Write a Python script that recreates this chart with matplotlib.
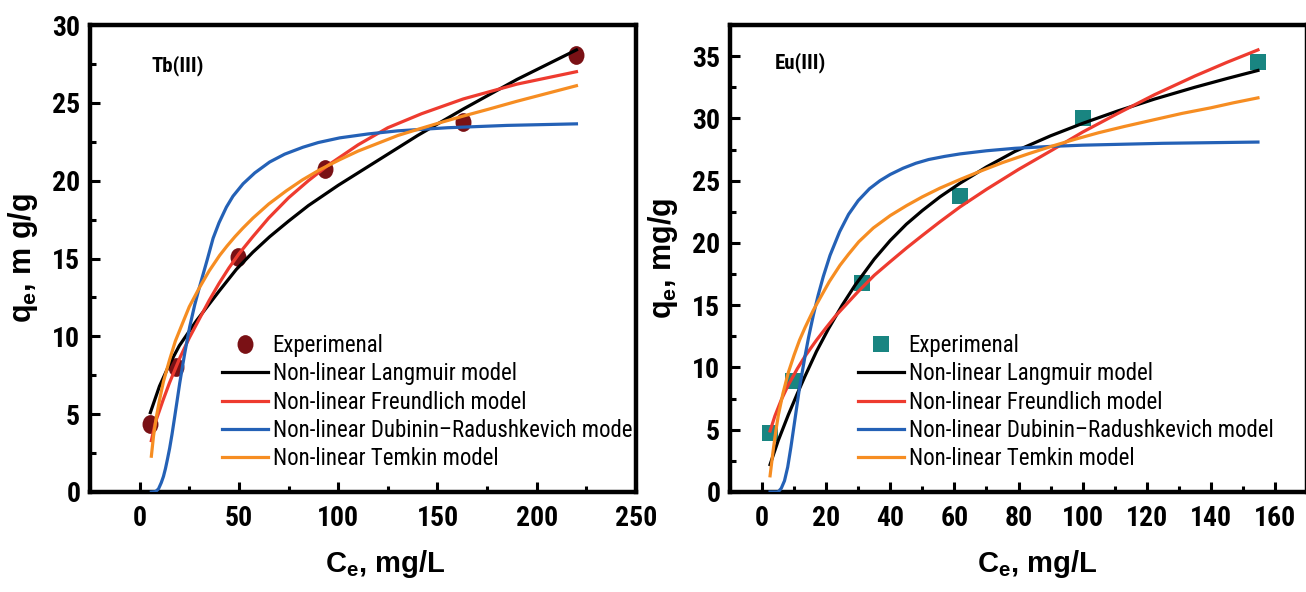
import matplotlib
matplotlib.use("Agg")
import matplotlib.pyplot as plt
from matplotlib import font_manager
from matplotlib.markers import MarkerStyle
from matplotlib.transforms import Affine2D
from matplotlib.ticker import MultipleLocator

# ---- data ----
# Tb(III)
tb_ce = [5.0, 18.5, 49.5, 93.2, 163, 220]
tb_qe = [4.4, 8.05, 15.1, 20.75, 23.8, 28.1]

tb_lang_x = [5.4, 10, 15, 20, 28.6, 32.8, 40, 48.7, 57, 65.5, 75, 85, 100, 120, 140, 163, 190, 220]
tb_lang_y = [5.1, 6.8, 8.2, 9.4, 11.0, 11.7, 12.9, 14.3, 15.4, 16.4, 17.4, 18.4, 19.7, 21.3, 22.9,
             24.6, 26.5, 28.4]

tb_frd_x = [5.9, 8, 11.8, 15, 20.2, 25, 30, 35, 40, 45, 50, 57, 65, 75, 85, 95, 110, 125, 142,
            163, 190, 220]
tb_frd_y = [3.3, 4.5, 5.9, 7.0, 8.6, 9.9, 11.1, 12.3, 13.4, 14.4, 15.3, 16.4, 17.6, 18.9, 20.0,
            21.0, 22.3, 23.4, 24.3, 25.25, 26.2, 27.0]

tb_dr_x = [5.9, 8, 9.5, 10.9, 12, 13, 14, 15.1, 16.3, 17.5, 18.8, 20.2, 21.5, 22.7, 24, 25.2,
           27.7, 30, 32, 34, 37, 40, 43.7, 47, 52.1, 58, 65.5, 73, 82.3, 90, 100.8, 115, 130,
           155, 185, 220]
tb_dr_y = [0, 0.02, 0.2, 0.6, 1.0, 1.5, 2.1, 2.8, 3.7, 4.7, 5.8, 7.0, 8.0, 8.9, 9.8, 10.6,
           12.0, 13.1, 14.0, 14.9, 16.3, 17.3, 18.3, 19.0, 19.8, 20.5, 21.2, 21.7, 22.15, 22.45,
           22.75, 23.0, 23.2, 23.4, 23.55, 23.65]

tb_tem_x = [5.9, 7, 8.4, 10, 12, 15.1, 18, 21.8, 25, 30, 35, 40.3, 44, 48, 52, 57.1, 65, 73.9,
            82, 90.7, 100.8, 110, 120, 130, 141.5, 152, 163, 176, 190, 205, 220]
tb_tem_y = [2.3, 3.6, 4.8, 5.9, 7.1, 8.5, 9.7, 10.9, 11.9, 13.1, 14.2, 15.2, 15.8, 16.4, 16.95,
            17.6, 18.5, 19.35, 20.05, 20.7, 21.35, 21.9, 22.4, 22.9, 23.35, 23.75, 24.15, 24.6,
            25.1, 25.6, 26.1]

# Eu(III)
eu_ce = [2.5, 9.8, 31.1, 61.8, 100, 154.8]
eu_qe = [4.7, 8.9, 16.8, 23.8, 30.0, 34.5]

eu_lang_x = [2.5, 5, 8.2, 11, 13.4, 17, 20.7, 25, 29, 35, 40, 45, 50, 55.5, 61.8, 70, 78.9,
             90, 100, 111, 122.4, 135, 145, 154.7]
eu_lang_y = [2.2, 4.1, 6.2, 7.9, 9.3, 11.3, 13.1, 15.0, 16.6, 18.7, 20.2, 21.5, 22.6, 23.7, 24.8,
             26.1, 27.35, 28.6, 29.6, 30.6, 31.55, 32.5, 33.2, 33.85]

eu_frd_x = [2.5, 4, 6, 8.2, 11, 13.4, 17, 20, 22.8, 26.4, 30, 35, 40, 45.1, 50, 55.5, 61.8, 70,
            80, 90.8, 100, 111, 122.4, 135, 145, 154.7]
eu_frd_y = [4.9, 6.1, 7.4, 8.6, 9.9, 10.9, 12.2, 13.2, 14.1, 15.1, 16.1, 17.4, 18.5, 19.6, 20.6,
            21.7, 22.9, 24.3, 25.9, 27.5, 28.9, 30.4, 31.9, 33.4, 34.5, 35.5]

eu_dr_x = [2.5, 5, 6, 7, 8, 9, 10.3, 11.7, 13.4, 14.5, 16, 17.5, 19.1, 21.2, 24.2, 27, 30, 33.5,
           36.8, 40, 44, 48, 52, 57, 61.8, 70, 78.9, 90, 100, 125, 154.7]
eu_dr_y = [0, 0, 0.3, 0.9, 2.0, 3.6, 5.9, 8.4, 10.9, 12.4, 14.2, 15.8, 17.3, 19.0, 20.9, 22.3,
           23.4, 24.35, 25.0, 25.5, 26.0, 26.4, 26.7, 26.95, 27.15, 27.4, 27.6, 27.75, 27.85,
           28.0, 28.1]

eu_tem_x = [2.5, 3.5, 4.3, 5.1, 6.5, 8.2, 10, 11.7, 13.4, 16, 18.6, 21, 24.3, 27, 30.2, 34.7,
            40, 45.1, 50, 55.5, 61.8, 68, 75, 83, 90.8, 98, 105, 113, 122.4, 131, 140, 147, 154.7]
eu_tem_y = [1.3, 3.4, 4.9, 6.2, 7.9, 9.6, 11.0, 12.2, 13.2, 14.6, 15.8, 16.9, 18.2, 19.1, 20.1,
            21.2, 22.2, 23.0, 23.7, 24.4, 25.1, 25.75, 26.45, 27.15, 27.8, 28.35, 28.85, 29.35,
            29.9, 30.4, 30.85, 31.25, 31.65]

labels = ["Experimenal", "Non-linear Langmuir model", "Non-linear Freundlich model",
          "Non-linear Dubinin\u2013Radushkevich model", "Non-linear Temkin model"]
line_colors = ["#000000", "#EE3B2F", "#2461B6", "#F68D22"]

# ---- fonts: a narrow sans like the original if one is there ----
names = {f.name for f in font_manager.fontManager.ttflist}
narrow = None
for cand in ["Liberation Sans Narrow", "Roboto Condensed", "DejaVu Sans Condensed",
             "Open Sans Condensed", "Noto Sans Condensed"]:
    if cand in names:
        narrow = cand
        break
if narrow:
    tick_fs, leg_fs, tag_fs = 20, 16.5, 15
else:
    narrow = "Liberation Sans"
    tick_fs, leg_fs, tag_fs = 17.5, 14.4, 13.5

plt.rcParams["font.family"] = [narrow, "DejaVu Sans"]
plt.rcParams["mathtext.fontset"] = "custom"
plt.rcParams["mathtext.rm"] = "Liberation Sans:bold"
plt.rcParams["mathtext.it"] = "Liberation Sans:bold"
plt.rcParams["mathtext.bf"] = "Liberation Sans:bold"

W, H = 1306, 592
fig = plt.figure(figsize=(W / 100, H / 100), dpi=100)
ax1 = fig.add_axes([90 / W, 100 / H, 546 / W, 467 / H])
ax2 = fig.add_axes([730 / W, 100 / H, 577 / W, 467 / H])

ellipse = MarkerStyle("o", transform=Affine2D().scale(0.85, 1.0))

panels = [
    (ax1, tb_ce, tb_qe, ellipse, "#7A1115", 13.5,
     [(tb_lang_x, tb_lang_y), (tb_frd_x, tb_frd_y), (tb_dr_x, tb_dr_y), (tb_tem_x, tb_tem_y)],
     "Tb(III)", (0.112, 0.912), "q$_{e}$, m g/g", (-25, 250), (0, 30), 50, 0.54, 0.242),
    (ax2, eu_ce, eu_qe, "s", "#198581", 11.5,
     [(eu_lang_x, eu_lang_y), (eu_frd_x, eu_frd_y), (eu_dr_x, eu_dr_y), (eu_tem_x, eu_tem_y)],
     "Eu(III)", (0.077, 0.92), "q$_{e}$, mg/g", (-10, 170), (0, 37.5), 20, 0.532, 0.222),
]

for (ax, ce, qe, mk, mcol, ms, curves, tag, tagpos, ylab, xlim, ylim, xstep,
     xlab_x, leg_x) in panels:
    ax.plot(ce, qe, linestyle="none", marker=mk, markersize=ms,
            color=mcol, markeredgewidth=0, zorder=2, label=labels[0])
    for (cx, cy), col, lab in zip(curves, line_colors, labels[1:]):
        ax.plot(cx, cy, color=col, linewidth=2.3, zorder=3, label=lab)

    ax.set_xlim(*xlim)
    ax.set_ylim(*ylim)
    ax.xaxis.set_major_locator(MultipleLocator(xstep))
    ax.xaxis.set_minor_locator(MultipleLocator(xstep / 2))
    ax.yaxis.set_major_locator(MultipleLocator(5))
    ax.yaxis.set_minor_locator(MultipleLocator(2.5))

    for s in ax.spines.values():
        s.set_linewidth(3.2)
    ax.tick_params(which="both", direction="in", top=False, right=False, width=2.2)
    ax.tick_params(which="major", length=7)
    ax.tick_params(which="minor", length=4)
    ax.tick_params(axis="x", pad=9)
    ax.tick_params(axis="y", pad=7)
    for t in ax.get_xticklabels() + ax.get_yticklabels():
        t.set_fontweight("bold")
        t.set_fontsize(tick_fs)

    ax.set_xlabel("C$_{e}$, mg/L", family="Liberation Sans", fontweight="bold",
                  fontsize=21, labelpad=12)
    ax.xaxis.label.set_x(xlab_x)
    ax.set_ylabel(ylab, family="Liberation Sans", fontweight="bold",
                  fontsize=22, labelpad=9)

    ax.text(tagpos[0], tagpos[1], tag, transform=ax.transAxes, fontsize=tag_fs,
            fontweight="bold", va="center")

    ax.legend(loc="upper left", bbox_to_anchor=(leg_x, 0.338), frameon=False,
              fontsize=leg_fs, borderpad=0, borderaxespad=0, handlelength=2.0,
              handletextpad=0.2, labelspacing=0.23)

fig.savefig("out.png", dpi=100)
